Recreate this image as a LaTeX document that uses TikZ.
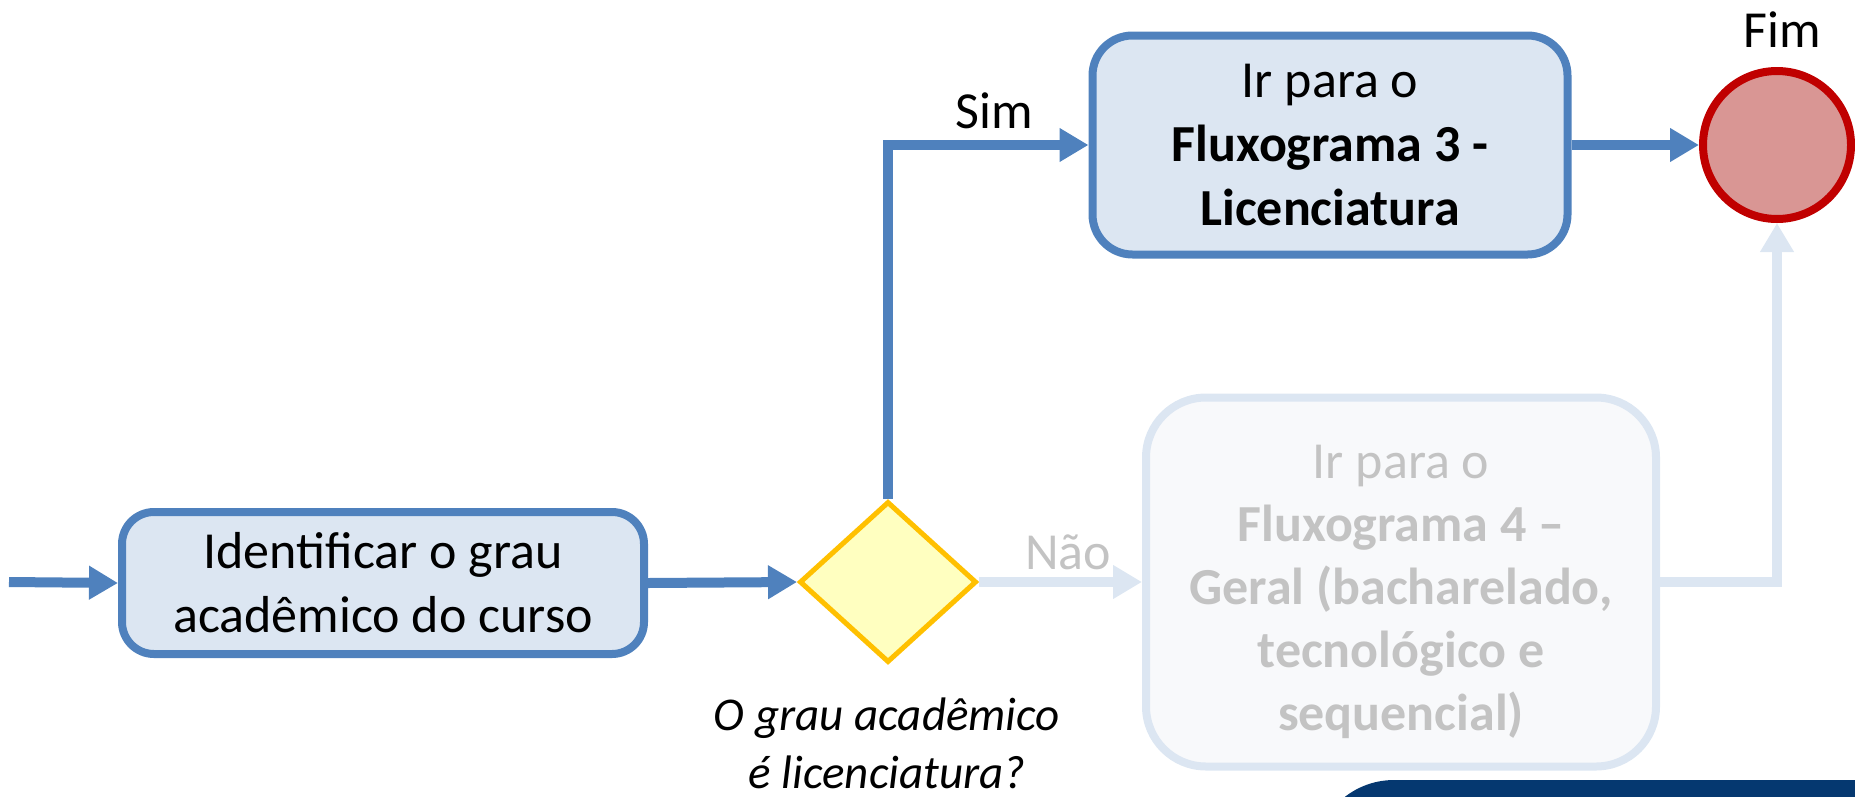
\documentclass[tikz,border=0pt]{standalone}
\usepackage{fontspec}
\setmainfont{Carlito}
\usetikzlibrary{arrows.meta,shapes.geometric}
\definecolor{cblue}{RGB}{79,129,189}
\definecolor{cfill}{RGB}{220,230,242}
\definecolor{fadeline}{RGB}{220,230,242}
\definecolor{fadefill}{RGB}{248,249,251}
\definecolor{fadetext}{RGB}{195,195,195}
\definecolor{dfill}{RGB}{255,255,192}
\definecolor{dline}{RGB}{255,192,0}
\definecolor{efill}{RGB}{217,150,148}
\definecolor{eline}{RGB}{192,0,0}
\definecolor{navy}{RGB}{5,56,112}
\tikzset{
  txt/.style={font=\fontsize{52}{64}\selectfont, align=center},
  taskbox/.style={txt, draw=cblue, fill=cfill, line width=8pt, rounded corners=32pt, inner sep=0pt},
  fadebox/.style={txt, draw=fadeline, fill=fadefill, text=fadetext, line width=8pt, rounded corners=60pt, inner sep=0pt},
  conn/.style={draw=cblue, line width=10pt, -{Triangle[length=29pt,width=32pt]}},
  fadeconn/.style={draw=fadeline, line width=10pt, -{Triangle[length=29pt,width=32pt]}},
}
\begin{document}
\begin{tikzpicture}[x=1pt,y=-1pt]
\useasboundingbox (0,0) rectangle (1855,796);
\begin{scope}
\clip (0,0) rectangle (1855,796);
\fill[navy, rounded corners=80pt] (1314,780) rectangle (1960,960);
\end{scope}
\coordinate (start) at (9,582);
\node[taskbox, minimum width=522pt, minimum height=142pt] (box1) at (383,583) {Identificar o grau\\acadêmico do curso};
\node[diamond, draw=dline, fill=dfill, line width=5pt, minimum width=177pt, minimum height=161pt, inner sep=0pt] (dec) at (888,582) {};
\node[taskbox, rounded corners=40pt, minimum width=475pt, minimum height=219pt] (box2) at (1330,145) {Ir para o\\\textbf{Fluxograma 3 -}\\\textbf{Licenciatura}};
\node[fadebox, minimum width=510pt, minimum height=369pt] (box3) at (1401,582) {};
\node[txt, text=fadetext, font=\fontsize{52}{63}\selectfont] (box3txt) at ([yshift=-10pt]box3.center) {Ir para o\\\textbf{Fluxograma 4 –}\\\textbf{Geral (bacharelado,}\\\textbf{tecnológico e}\\\textbf{sequencial)}};
\node[circle, draw=eline, fill=efill, line width=8pt, minimum size=148pt, inner sep=0pt] (fim) at (1777,145) {};
\node[txt, anchor=base] (fimlbl) at (1782,47) {Fim};
\node[txt, font=\fontsize{47}{58}\selectfont\itshape, anchor=south, inner sep=0pt] (q) at (887,789) {O grau acadêmico\\é licenciatura?};
\draw[conn] (start) -- (box1.west);
\draw[conn] (box1.east) -- (dec.west);
\draw[conn] (dec.north) |- (box2.west);
\node[txt, anchor=base] (sim) at (994,128) {Sim};
\draw[conn] (box2.east) -- (fim.west);
\draw[fadeconn] (dec.east) -- (box3.west);
\node[txt, text=fadetext, anchor=base] (nao) at (1068,569) {Não};
\draw[fadeconn] (box3.east) -| (fim.south);
\end{tikzpicture}
\end{document}
